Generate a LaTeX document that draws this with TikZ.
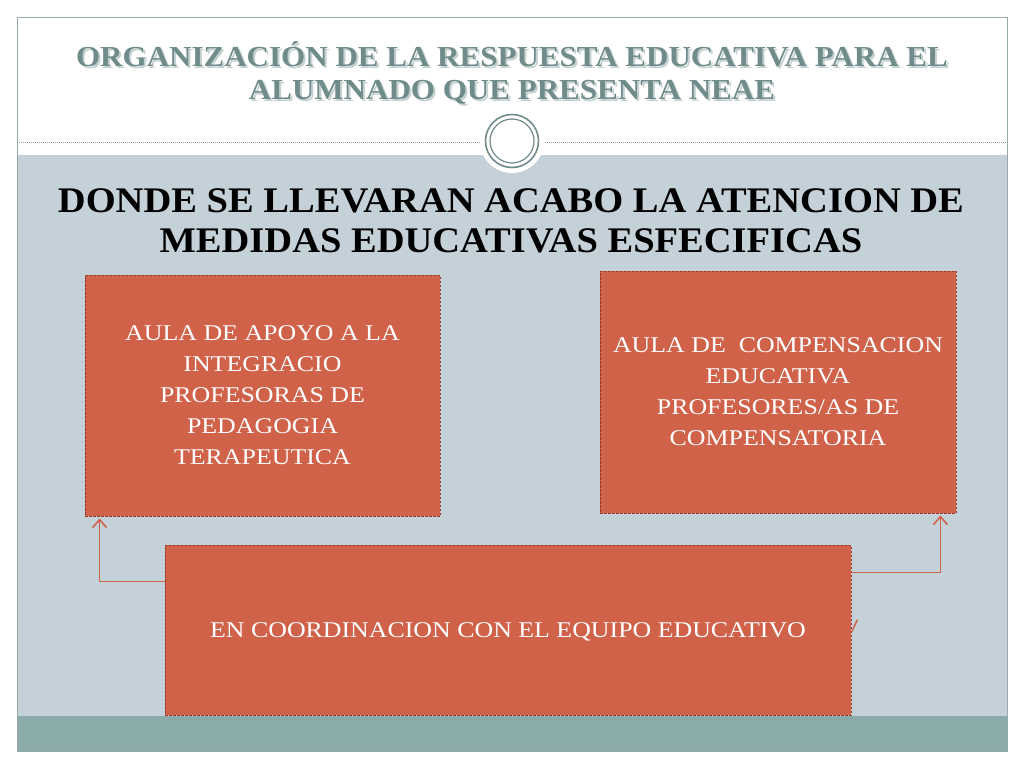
\documentclass[tikz,border=0pt]{standalone}
\usepackage{fontspec}
\setmainfont{Liberation Serif}
\usetikzlibrary{arrows.meta}
\definecolor{bggray}{RGB}{197,209,216}
\definecolor{teal}{RGB}{138,171,170}
\definecolor{titlec}{RGB}{111,139,138}
\definecolor{boxfill}{RGB}{208,98,74}
\definecolor{boxline}{RGB}{150,55,42}
\definecolor{framec}{RGB}{150,170,172}
\newcommand{\hs}[1]{\scalebox{1.15}[1]{#1}}
\newcommand{\ts}[1]{\scalebox{1.07}[1]{#1}}
\tikzset{
  redbox/.style={draw=boxline, dash pattern=on 2.5pt off 1.5pt, line width=0.8pt, fill=boxfill, text=white, align=center, inner sep=0pt, text depth=0pt, font=\fontsize{22.5}{31}\selectfont},
  conn/.style={draw=boxfill, line width=1.6pt, -{Straight Barb[length=8pt,width=14pt,line width=1.6pt]}},
  titlefont/.style={font=\fontsize{29}{33}\selectfont\bfseries, align=center},
}
\begin{document}
\begin{tikzpicture}[x=1pt,y=-1pt]
\useasboundingbox (0,0) rectangle (1024,768);
\fill[white] (0,0) rectangle (1024,768);
% regions
\fill[white] (17,17) rectangle (1007,155);
\fill[bggray] (17,155) rectangle (1007,716);
\fill[teal] (17,716) rectangle (1007,751);
\draw[framec, line width=0.8pt] (17,17) rectangle (1007,751);
\draw[titlec!80, line width=0.8pt, dash pattern=on 1pt off 1pt] (17,142) -- (1007,142);
% circle ornament
\fill[white] (512,141) circle (32);
\draw[titlec, line width=1.6pt] (512,141) circle (26.5);
\draw[titlec, line width=1.2pt] (512,141) circle (22);
% title
\node[titlefont, text=titlec!40] at (514,75) {\ts{ORGANIZACIÓN DE LA RESPUESTA EDUCATIVA PARA EL}\\\ts{ALUMNADO QUE PRESENTA NEAE}};
\node[titlefont, text=titlec] (title) at (512,73) {\ts{ORGANIZACIÓN DE LA RESPUESTA EDUCATIVA PARA EL}\\\ts{ALUMNADO QUE PRESENTA NEAE}};
% heading
\node[font=\fontsize{36}{40}\selectfont\bfseries, align=center, text=black] (head) at (511,221) {\ts{DONDE SE LLEVARAN ACABO LA ATENCION DE}\\\ts{MEDIDAS EDUCATIVAS ESFECIFICAS}};
% boxes
\node[redbox, minimum width=355, minimum height=241] (left) at (262.5,395.5) {\hs{AULA DE APOYO A LA}\\\hs{INTEGRACIO}\\\hs{PROFESORAS DE}\\\hs{PEDAGOGIA}\\\hs{TERAPEUTICA}};
\node[redbox, minimum width=356, minimum height=242] (right) at (778,392) {\hs{AULA DE\ \ COMPENSACION}\\\hs{EDUCATIVA}\\\hs{PROFESORES/AS DE}\\\hs{COMPENSATORIA}};
\node[redbox, minimum width=686, minimum height=170] (bot) at (508,630) {\hs{EN COORDINACION CON EL EQUIPO EDUCATIVO}};
% connectors
\draw[conn] ([yshift=-37pt]bot.north west) -| ([xshift=15pt,yshift=-2pt]left.south west);
\draw[conn] ([yshift=-28pt]bot.north east) -| ([xshift=-16pt,yshift=-2pt]right.south east);
\draw[boxfill, line width=1.5pt] ([yshift=-88pt]bot.north east) -- ++(6,-13);
\end{tikzpicture}
\end{document}
